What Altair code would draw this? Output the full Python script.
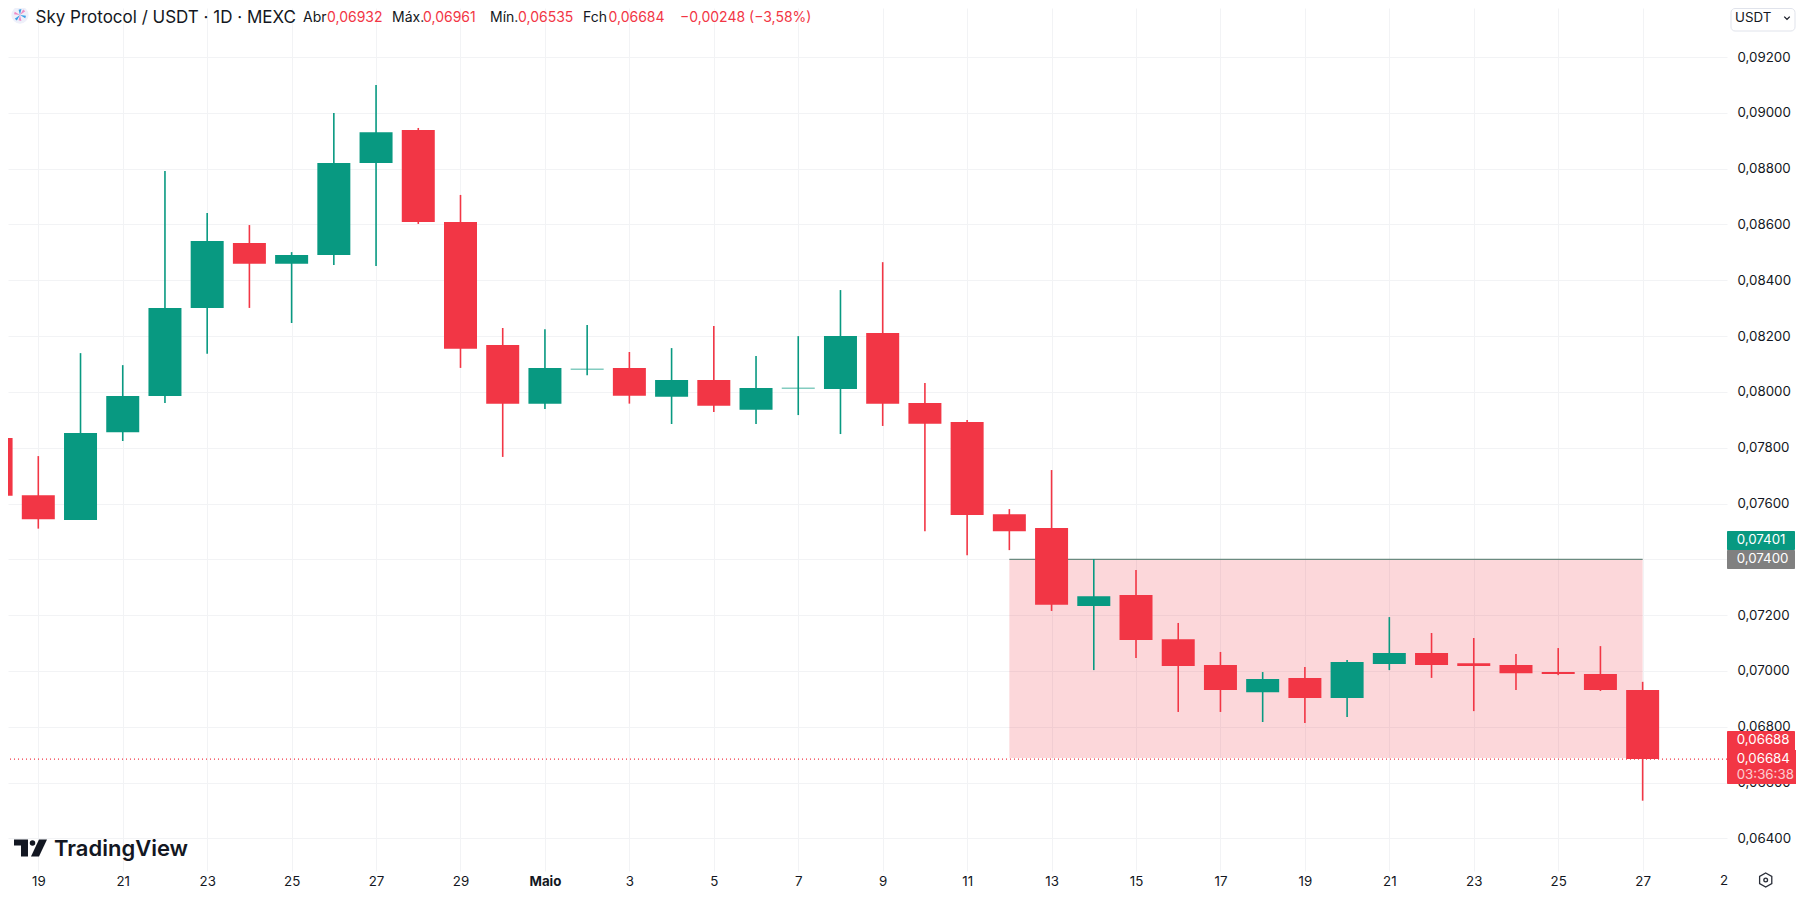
import altair as alt
import pandas as pd

# ---- data ----
days = list(range(-1, 39))
opens = [.07835,.07630,.07541,.07855,.07985,.08301,.08534,.08459,.08491,.08820,.08939,.08609,.08168,.07958,.08080,.08086,.07983,.08043,.07936,.08012,.08010,.08211,.07960,.07892,.07562,.07512,.07233,.07272,.07114,.07021,.06924,.06975,.06903,.07025,.07064,.07028,.07021,.06996,.06989,.06932]
highs = [.07835,.07770,.08139,.08096,.08792,.08641,.08598,.08501,.09000,.09100,.08946,.08706,.08229,.08225,.08240,.08143,.08157,.08236,.08129,.08200,.08365,.08465,.08032,.07899,.07580,.07720,.07401,.07362,.07172,.07068,.06996,.07014,.07039,.07193,.07136,.07118,.07061,.07082,.07089,.06961]
lows = [.07628,.07510,.07541,.07824,.07960,.08137,.08301,.08247,.08455,.08451,.08602,.08086,.07767,.07939,.08060,.07958,.07885,.07928,.07885,.07917,.07849,.07878,.07501,.07415,.07433,.07215,.07003,.07046,.06853,.06853,.06817,.06813,.06835,.07003,.06975,.06856,.06932,.06985,.06928,.06535]
closes = [.07628,.07544,.07853,.07985,.08301,.08541,.08459,.08491,.08820,.08931,.08609,.08155,.07958,.08086,.08083,.07986,.08043,.07950,.08014,.08015,.08200,.07958,.07886,.07559,.07501,.07237,.07268,.07111,.07018,.06932,.06971,.06903,.07032,.07064,.07021,.07018,.06992,.06989,.06932,.06684]

price_ticks = [.064,.066,.068,.070,.072,.074,.076,.078,.080,.082,.084,.086,.088,.090,.092]
day_ticks = list(range(0, 39, 2))
day_labels = ["19","21","23","25","27","29","Maio","3","5","7","9","11","13","15","17","19","21","23","25","27"]

zone_low, zone_high = .06688, .07400
zone_start, zone_end = 23, 38
last_close = .06684

GREEN = "#089981"
RED = "#f23645"
GRID = "#f2f3f5"
INK = "#131722"
FONT = "Inter"
AXIS_SIZE = 13.3

W, H = 1719, 863
OX, OY = 8, 8   # page margin: reference px -> chart px

df = pd.DataFrame({"day": days, "o": opens, "h": highs, "l": lows, "c": closes})
df["dir"] = ["up" if c >= o else "down" for o, c in zip(opens, closes)]

x_scale = alt.Scale(domain=[-0.7177, 39.998], nice=False, zero=False, padding=0)
y_scale = alt.Scale(domain=[.062830, .093759], nice=False, zero=False, padding=0)
color = alt.Color("dir:N", scale=alt.Scale(domain=["up", "down"], range=[GREEN, RED]), legend=None)

label_map = "{" + ",".join(f"'{d}':'{l}'" for d, l in zip(day_ticks, day_labels)) + "}"
x_axis = alt.Axis(
    values=day_ticks, title=None, grid=True, gridColor=GRID, gridWidth=1, ticks=False, domain=False,
    labelExpr=label_map + "[datum.value]", labelFont=FONT, labelFontSize=AXIS_SIZE, labelColor=INK,
    labelPadding=3, labelOverlap=False, labelFlush=False,
    labelFontWeight=alt.condition("datum.value == 12", alt.value(700), alt.value(400)),
)
y_axis = alt.Axis(
    values=price_ticks, title=None, orient="right", grid=True, gridColor=GRID, gridWidth=1, ticks=False,
    domain=False, labelExpr="replace(format(datum.value, '.5f'), '.', ',')", labelFont=FONT, labelFontSize=AXIS_SIZE,
    labelColor=INK, labelPadding=10, labelOverlap=False, labelFlush=False,
)
X = lambda f: alt.X(f, scale=x_scale, axis=x_axis)
Y = lambda f: alt.Y(f, scale=y_scale, axis=y_axis)

one = alt.Data(values=[{}])


def px(v):
    return alt.value(v - OX)


def py(v):
    return alt.value(v - OY)


def label(text, x, y, size=AXIS_SIZE, col=INK, align="left", weight=400, opacity=1):
    return alt.Chart(one).mark_text(
        text=text, font=FONT, fontSize=size, color=col, align=align, baseline="middle",
        fontWeight=weight, opacity=opacity,
    ).encode(x=px(x), y=py(y))


def box(x0, x1, y0, y1, fill, stroke=None, radius=2):
    kw = {"stroke": stroke, "strokeWidth": 1} if stroke else {}
    return alt.Chart(one).mark_rect(fill=fill, cornerRadius=radius, **kw).encode(
        x=px(x0), x2=px(x1), y=py(y0), y2=py(y1))


def symbol(path, x, y, size, fill=None, stroke=None, sw=1.5):
    kw = {}
    if fill:
        kw.update(fill=fill, filled=True, strokeWidth=0)
    else:
        kw.update(stroke=stroke, filled=False, strokeWidth=sw)
    return alt.Chart(one).mark_point(shape=path, size=size, opacity=1, **kw).encode(x=px(x), y=py(y))


base = alt.Chart(df)

zone_df = alt.Data(values=[{"a": zone_start, "b": zone_end, "lo": zone_low, "hi": zone_high}])
zone = alt.Chart(zone_df).mark_rect(fill=RED, fillOpacity=0.2).encode(
    x=X("a:Q"), x2="b:Q", y=Y("lo:Q"), y2="hi:Q",
)
zone_top = alt.Chart(zone_df).mark_rule(color="#6b8a80", strokeWidth=1.2).encode(
    x=X("a:Q"), x2="b:Q", y=Y("hi:Q"),
)

wicks = base.mark_rule(strokeWidth=1.6, clip=True).encode(
    x=X("day:Q"), y=Y("h:Q"), y2="l:Q", color=color,
)
bodies = base.mark_bar(size=33, clip=True).encode(
    x=X("day:Q"), y=Y("o:Q"), y2="c:Q", color=color,
)

last_line = alt.Chart(alt.Data(values=[{"p": last_close}])).mark_rule(
    color=RED, strokeWidth=1.1, strokeDash=[1, 3]
).encode(y=Y("p:Q"))

clipped_two = alt.Chart(alt.Data(values=[{"day": 40}])).mark_text(
    text="2", font=FONT, fontSize=AXIS_SIZE, color=INK, align="right", baseline="middle", dx=1
).encode(x=X("day:Q"), y=py(881))

tags = [
    box(1727, 1795, 531, 550, GREEN, radius=1), label("0,07401", 1736.7, 540, col="#ffffff"),
    box(1727, 1795, 550, 569, "#808080", radius=1), label("0,07400", 1736.7, 559, col="#ffffff"),
    box(1727, 1795, 731, 752, RED, radius=1), label("0,06688", 1736.7, 739.5, col="#ffffff"),
    box(1727, 1799, 750, 784, RED, radius=1), label("0,06684", 1736.7, 759, col="#ffffff"),
    label("03:36:38", 1736.7, 774.5, col="#ffffff", opacity=0.75),
]

MUTED = RED
HEAD = 14
header = [
    label("Sky Protocol / USDT · 1D · MEXC", 35.5, 18, size=17),
    label("Abr", 303, 18, size=HEAD), label("0,06932", 327, 18, size=HEAD, col=MUTED),
    label("Máx.", 392, 18, size=HEAD), label("0,06961", 423, 18, size=HEAD, col=MUTED),
    label("Mín.", 490, 18, size=HEAD), label("0,06535", 518, 18, size=HEAD, col=MUTED),
    label("Fch", 583, 18, size=HEAD), label("0,06684", 608.5, 18, size=HEAD, col=MUTED),
    label("−0,00248 (−3,58%)", 680, 18, size=HEAD, col=MUTED),
]

# Sky icon: pale disc with blue and pink petals
petal_blue = "M0,0L-0.2,-0.75L0.2,-0.85ZM0,0L0.85,0.1L0.75,0.45ZM0,0L-0.75,0.55L-0.45,0.8Z"
petal_pink = "M0,0L0.45,-0.8L0.75,-0.55ZM0,0L0.2,0.85L-0.2,0.75ZM0,0L-0.85,-0.1L-0.75,-0.45Z"
icon = [
    alt.Chart(one).mark_circle(size=300, color="#eef0fa", opacity=1).encode(x=px(20), y=py(15)),
    symbol(petal_blue, 20, 15, 196, fill="#3b9fe6"),
    symbol(petal_pink, 20, 15, 196, fill="#ee8cc4"),
]

# USDT selector
chev = "M-1,-0.5L0,0.5L1,-0.5"
usdt = [
    box(1731, 1795, 8.5, 31, "#ffffff", stroke="#e0e3eb", radius=4),
    label("USDT", 1735, 17.5, size=AXIS_SIZE),
    symbol(chev, 1787, 18, 30, stroke=INK, sw=1.3),
]

# TradingView logo
logo_t = "M-1,-0.515L-0.152,-0.515L-0.152,0.515L-0.576,0.515L-0.576,-0.152L-1,-0.152Z"
logo_s = "M0.515,-0.515L1,-0.515L0.515,0.515L0.03,0.515Z"
logo = [
    symbol(logo_t, 30.5, 848, 1089, fill=INK),
    symbol(logo_s, 30.5, 848, 1089, fill=INK),
    alt.Chart(one).mark_circle(size=30, color=INK, opacity=1).encode(x=px(32.5), y=py(843)),
    label("TradingView", 54, 849, size=22, weight=600),
]

# settings hexagon
hexagon = "M0,-1L0.87,-0.5L0.87,0.5L0,1L-0.87,0.5L-0.87,-0.5Z"
gear = [
    symbol(hexagon, 1765.7, 880, 196, stroke="#2a2e39", sw=1.3),
    alt.Chart(one).mark_circle(size=14, fill="#ffffff", stroke="#2a2e39", strokeWidth=1.3, opacity=1).encode(
        x=px(1765.7), y=py(880)),
]

chart = alt.layer(
    zone, zone_top, wicks, bodies, last_line, clipped_two,
    *tags, *icon, *header, *usdt, *logo, *gear,
).resolve_scale(x="shared", y="shared").properties(
    width=W, height=H,
    padding={"left": 0, "top": 0, "right": 69, "bottom": 17},
    autosize=alt.AutoSizeParams(type="none"),
    background="#ffffff",
).configure_view(stroke=None)

chart.save("out.html", embed_options={"renderer": "svg", "actions": False})
